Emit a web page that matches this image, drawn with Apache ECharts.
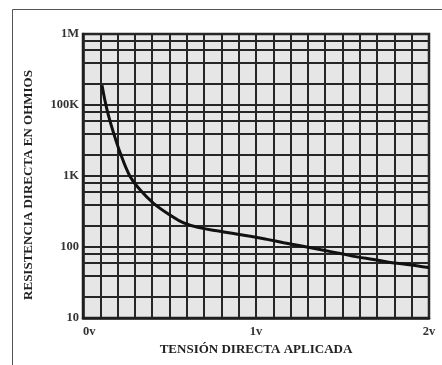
<!DOCTYPE html>
<html>
<head>
<meta charset="utf-8">
<script src="https://cdn.jsdelivr.net/npm/echarts@6/dist/echarts.min.js"></script>
<style>
html,body{margin:0;padding:0;background:#fff;}
#chart{width:442px;height:365px;}
</style>
</head>
<body>
<div id="chart"></div>
<script>
// Voltage (V) along the curve
var voltages = [0.11, 0.139, 0.177, 0.216, 0.273, 0.331, 0.408, 0.503, 0.582, 0.678, 0.775, 0.871, 0.967, 1.064, 1.160, 1.256, 1.391, 1.487, 1.584, 1.680, 1.776, 1.873, 1.998];
// Resistance in axis units (log scale, 4 decades)
var resistances = [19000, 8530, 4010, 2090, 977, 634, 412, 282, 218, 186, 169, 155, 142, 128, 115, 104, 90, 81, 72.6, 66.7, 60.5, 56.8, 51.4];
// Decade tick labels as printed on the original chart
var yTickValues = [10, 100, 1000, 10000, 100000];
var yTickLabels = ['10', '100', '1K', '100K', '1M'];
// X tick labels
var xTickValues = [0, 1, 2];
var xTickLabels = ['0v', '1v', '2v'];
// Minor horizontal grid lines (2,4,6,8 of each decade)
var minorGridValues = [20, 40, 60, 80, 200, 400, 600, 800, 2000, 4000, 6000, 8000, 20000, 40000, 60000, 80000];

var gridColor = '#262626';
var fontFam = '"Liberation Serif", "DejaVu Serif", serif';

var chart = echarts.init(document.getElementById('chart'), null, {renderer: 'canvas'});
var data = voltages.map(function (v, i) { return [v, resistances[i]]; });

chart.setOption({
  animation: false,
  backgroundColor: '#ffffff',
  graphic: [{
    type: 'rect', left: 10, top: 7, z: -10,
    shape: {x: 0, y: 0, width: 450, height: 380},
    style: {fill: 'none', stroke: '#555', lineWidth: 1}
  }],
  grid: {
    left: 83, right: 13, top: 34, bottom: 47,
    show: true, backgroundColor: '#e6e6e6', borderColor: '#1e1e1e', borderWidth: 2.5
  },
  xAxis: {
    type: 'value', min: 0, max: 2, interval: 0.1,
    name: 'TENSIÓN DIRECTA APLICADA', nameLocation: 'middle', nameGap: 21,
    nameTextStyle: {fontFamily: fontFam, fontWeight: 'bold', fontSize: 13, color: '#222'},
    axisLine: {show: true, lineStyle: {color: '#1e1e1e', width: 2.5}},
    axisTick: {show: false},
    splitLine: {show: true, lineStyle: {color: gridColor, width: 2}},
    axisLabel: {
      margin: 7, fontFamily: fontFam, fontWeight: 'bold', fontSize: 12.5, color: '#333',
      alignMinLabel: 'left', showMinLabel: true, showMaxLabel: true,
      formatter: function (v) {
        for (var i = 0; i < xTickValues.length; i++) {
          if (Math.abs(v - xTickValues[i]) < 1e-6) return xTickLabels[i];
        }
        return '';
      }
    }
  },
  yAxis: {
    type: 'log', logBase: 10, min: 10, max: 100000,
    name: 'RESISTENCIA DIRECTA EN OHMIOS', nameLocation: 'middle', nameGap: 48,
    nameTextStyle: {fontFamily: fontFam, fontWeight: 'bold', fontSize: 13, color: '#222', padding: [0, 18, 0, 0]},
    axisLine: {show: true, lineStyle: {color: '#1e1e1e', width: 2.5}},
    axisTick: {show: false},
    splitLine: {show: true, lineStyle: {color: gridColor, width: 2}},
    axisLabel: {
      margin: 4, fontFamily: fontFam, fontWeight: 'bold', fontSize: 12.5, color: '#333',
      formatter: function (v) {
        for (var i = 0; i < yTickValues.length; i++) {
          if (Math.abs(v / yTickValues[i] - 1) < 1e-6) return yTickLabels[i];
        }
        return '';
      }
    }
  },
  series: [{
    type: 'line',
    data: [],
    z: 1,
    markLine: {
      silent: true,
      symbol: ['none', 'none'],
      label: {show: false},
      lineStyle: {color: gridColor, width: 2, type: 'solid'},
      data: minorGridValues.map(function (v) { return {yAxis: v}; })
    }
  }, {
    type: 'line',
    data: data,
    smooth: 0.4,
    symbol: 'none',
    lineStyle: {color: '#111', width: 3},
    z: 5
  }]
});
</script>
</body>
</html>
